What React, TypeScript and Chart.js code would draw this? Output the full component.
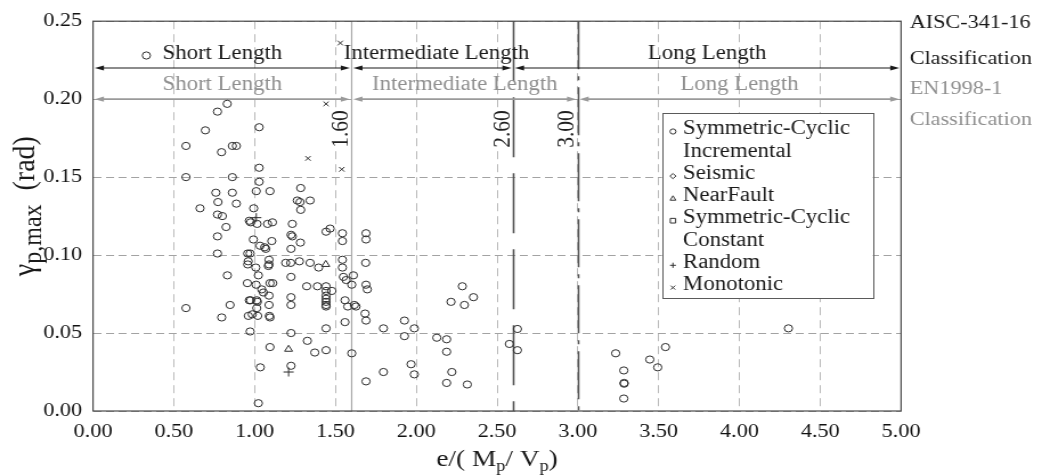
import React, { useEffect, useRef } from 'react';
import { Chart, registerables } from 'chart.js';

Chart.register(...registerables);

const VIEW_W = 1042;
const VIEW_H = 475;
const STRETCH = 1.14;
const CANVAS_W = Math.round(VIEW_W / STRETCH);
const FONT = '"Liberation Serif", "Times New Roman", serif';

const xTickValues = [0, 0.5, 1, 1.5, 2, 2.5, 3, 3.5, 4, 4.5, 5];
const xTickLabels = ['0.00', '0.50', '1.00', '1.50', '2.00', '2.50', '3.00', '3.50', '4.00', '4.50', '5.00'];
const yTickValues = [0, 0.05, 0.1, 0.15, 0.2, 0.25];
const yTickLabels = ['0.00', '0.05', '0.10', '0.15', '0.20', '0.25'];

const symCyclicIncremental: [number, number][] = [
  [0.33, 0.228],
  [0.83, 0.197], [0.77, 0.192], [0.695, 0.18], [0.575, 0.17], [0.795, 0.166], [0.862, 0.17], [0.887, 0.17], [1.028, 0.182],
  [0.575, 0.15], [0.862, 0.15], [1.028, 0.156], [1.028, 0.147],
  [0.76, 0.14], [0.862, 0.14], [1.01, 0.141], [1.095, 0.141], [1.285, 0.143],
  [0.773, 0.134], [0.887, 0.133], [0.662, 0.13], [0.77, 0.126], [0.8, 0.125], [0.994, 0.13],
  [1.264, 0.135], [1.281, 0.134], [1.343, 0.135], [1.285, 0.129],
  [0.823, 0.118], [0.77, 0.112], [0.77, 0.101],
  [0.967, 0.122], [0.975, 0.121], [1.015, 0.12], [1.08, 0.12], [1.11, 0.121], [1.233, 0.12],
  [0.992, 0.11], [1.033, 0.106], [1.062, 0.105], [1.069, 0.104], [1.106, 0.109],
  [1.225, 0.113], [1.233, 0.112], [1.283, 0.108], [1.225, 0.104],
  [1.442, 0.115], [1.467, 0.117], [1.543, 0.114], [1.543, 0.109], [1.689, 0.114], [1.689, 0.11],
  [0.957, 0.101], [0.972, 0.101], [0.96, 0.096], [0.957, 0.094], [1.007, 0.092], [1.023, 0.087],
  [1.089, 0.097], [1.089, 0.094], [1.085, 0.093],
  [1.192, 0.095], [1.223, 0.095], [1.277, 0.096], [1.343, 0.095], [1.396, 0.092], [1.225, 0.086],
  [1.543, 0.097], [1.543, 0.092], [1.549, 0.086], [1.566, 0.084], [1.611, 0.087], [1.601, 0.081], [1.687, 0.095],
  [0.831, 0.087],
  [0.955, 0.082], [1.009, 0.081], [1.044, 0.078], [1.054, 0.076], [1.095, 0.082], [1.112, 0.082],
  [1.322, 0.08], [1.388, 0.08],
  [1.442, 0.08], [1.442, 0.077], [1.442, 0.074], [1.442, 0.072], [1.442, 0.07], [1.442, 0.068], [1.442, 0.067],
  [1.478, 0.077],
  [1.689, 0.081], [1.697, 0.078],
  [0.967, 0.071], [0.975, 0.071], [1.013, 0.071], [1.017, 0.07], [1.013, 0.066], [1.089, 0.074], [1.089, 0.068],
  [1.225, 0.073], [1.225, 0.068],
  [1.559, 0.071], [1.576, 0.067], [1.617, 0.068], [1.627, 0.067],
  [0.575, 0.066], [0.848, 0.068], [0.796, 0.06],
  [0.961, 0.061], [0.985, 0.062], [1.019, 0.061], [1.091, 0.061], [1.095, 0.06],
  [1.683, 0.0625], [1.689, 0.058], [1.559, 0.057],
  [0.972, 0.051], [1.225, 0.05], [1.442, 0.053],
  [1.326, 0.045], [1.095, 0.041], [1.372, 0.0375], [1.442, 0.039], [1.601, 0.037],
  [1.035, 0.028], [1.225, 0.029], [1.689, 0.019], [1.023, 0.005],
  [1.797, 0.053], [1.797, 0.025], [1.927, 0.058], [1.927, 0.048], [1.988, 0.053], [1.968, 0.03], [1.988, 0.0235],
  [2.127, 0.047], [2.188, 0.046], [2.188, 0.038], [2.22, 0.025], [2.188, 0.018], [2.316, 0.017],
  [2.215, 0.07], [2.285, 0.08], [2.298, 0.068], [2.354, 0.073],
  [2.576, 0.043], [2.626, 0.0526], [2.626, 0.039],
  [3.234, 0.037], [3.284, 0.026], [3.286, 0.018], [3.286, 0.0175], [3.284, 0.008],
  [3.445, 0.033], [3.494, 0.028], [3.542, 0.041], [4.303, 0.053],
];
const seismic: [number, number][] = [];
const nearFault: [number, number][] = [[1.44, 0.094], [1.21, 0.0396]];
const symCyclicConstant: [number, number][] = [];
const random: [number, number][] = [[1.01, 0.124], [1.21, 0.025]];
const monotonic: [number, number][] = [[1.442, 0.197], [1.33, 0.162], [1.539, 0.155], [1.53, 0.236]];

const seriesNames = [
  'Symmetric-Cyclic\nIncremental',
  'Seismic',
  'NearFault',
  'Symmetric-Cyclic\nConstant',
  'Random',
  'Monotonic',
];
const seriesData = [symCyclicIncremental, seismic, nearFault, symCyclicConstant, random, monotonic];
const seriesStyles = ['circle', 'rectRot', 'triangle', 'rect', 'cross', 'crossRot'];
const seriesRadius = [3.6, 3.6, 4, 3.6, 4.5, 3.3];

const classNames = ['Short Length', 'Intermediate Length', 'Long Length'];
const aiscBounds = [0, 1.6, 2.6, 5];
const enBounds = [0, 1.6, 3.0, 5];
const aiscTextX = [0.8, 2.125, 3.8];
const enTextX = [0.8, 2.3, 4.0];
const aiscArrowY = 0.22;
const enArrowY = 0.2;
const limitValues = [1.6, 2.6, 3.0];
const limitLabels = ['1.60', '2.60', '3.00'];
const sideLabels = ['AISC-341-16', 'Classification', 'EN1998-1', 'Classification'];

const BLACK = '#1a1a1a';
const GREY_TEXT = '#8f8f8f';

function drawRich(
  ctx: CanvasRenderingContext2D,
  parts: { t: string; sub?: boolean }[],
  x: number,
  y: number,
  size: number,
  subScale: number,
) {
  const subSize = Math.round(size * subScale);
  let total = 0;
  const widths = parts.map((p) => {
    ctx.font = `${p.sub ? subSize : size}px ${FONT}`;
    const w = ctx.measureText(p.t).width;
    total += w;
    return w;
  });
  let cx = x - total / 2;
  ctx.textAlign = 'left';
  ctx.textBaseline = 'alphabetic';
  parts.forEach((p, i) => {
    ctx.font = `${p.sub ? subSize : size}px ${FONT}`;
    ctx.fillText(p.t, cx, p.sub ? y + size * 0.22 : y);
    cx += widths[i];
  });
}

function drawMarker(ctx: CanvasRenderingContext2D, style: string, x: number, y: number, r: number) {
  ctx.beginPath();
  if (style === 'circle') {
    ctx.arc(x, y, r, 0, Math.PI * 2);
  } else if (style === 'rectRot') {
    ctx.moveTo(x, y - r); ctx.lineTo(x + r, y); ctx.lineTo(x, y + r); ctx.lineTo(x - r, y); ctx.closePath();
  } else if (style === 'triangle') {
    ctx.moveTo(x, y - r); ctx.lineTo(x + r * 0.95, y + r * 0.7); ctx.lineTo(x - r * 0.95, y + r * 0.7); ctx.closePath();
  } else if (style === 'rect') {
    ctx.rect(x - r * 0.9, y - r * 0.9, r * 1.8, r * 1.8);
  } else if (style === 'cross') {
    ctx.moveTo(x - r, y); ctx.lineTo(x + r, y); ctx.moveTo(x, y - r); ctx.lineTo(x, y + r);
  } else if (style === 'crossRot') {
    const d = r * 0.75;
    ctx.moveTo(x - d, y - d); ctx.lineTo(x + d, y + d); ctx.moveTo(x + d, y - d); ctx.lineTo(x - d, y + d);
  }
  ctx.stroke();
}

function arrowSeg(ctx: CanvasRenderingContext2D, x1: number, x2: number, y: number, color: string, lw: number) {
  const L = 8;
  const h = 2.6;
  ctx.strokeStyle = color;
  ctx.fillStyle = color;
  ctx.lineWidth = lw;
  ctx.setLineDash([]);
  ctx.beginPath();
  ctx.moveTo(x1 + L - 1, y);
  ctx.lineTo(x2 - L + 1, y);
  ctx.stroke();
  ctx.beginPath();
  ctx.moveTo(x1, y); ctx.lineTo(x1 + L, y - h); ctx.lineTo(x1 + L, y + h); ctx.closePath(); ctx.fill();
  ctx.beginPath();
  ctx.moveTo(x2, y); ctx.lineTo(x2 - L, y - h); ctx.lineTo(x2 - L, y + h); ctx.closePath(); ctx.fill();
}

const overlayPlugin = {
  id: 'overlay',
  beforeDatasetsDraw(chart: any) {
    const { ctx, chartArea: a, scales } = chart;
    const x = scales.x;
    const y = scales.y;
    ctx.save();
    const limitColors = ['#a9a9a9', '#505050', '#505050'];
    const limitWidths = [1.2, 1.6, 1.6];
    const limitDashes = [[], [60, 16], [48, 7, 4, 7]];
    limitValues.forEach((v, i) => {
      const px = Math.round(x.getPixelForValue(v)) + 0.5;
      ctx.strokeStyle = limitColors[i];
      ctx.lineWidth = limitWidths[i];
      ctx.setLineDash(limitDashes[i]);
      ctx.beginPath();
      ctx.moveTo(px, a.top);
      ctx.lineTo(px, a.bottom);
      ctx.stroke();
    });
    ctx.setLineDash([]);
    ctx.font = `21.5px ${FONT}`;
    limitValues.forEach((v, i) => {
      const px = x.getPixelForValue(v) - 10.3;
      const cy = 129;
      ctx.save();
      ctx.translate(px, cy);
      ctx.rotate(-Math.PI / 2);
      const w = ctx.measureText(limitLabels[i]).width;
      ctx.fillStyle = '#ffffff';
      ctx.fillRect(-w / 2 - 2, -8, w + 4, 16);
      ctx.fillStyle = '#202020';
      ctx.textAlign = 'center';
      ctx.textBaseline = 'middle';
      ctx.fillText(limitLabels[i], 0, 1);
      ctx.restore();
    });
    const gap = 1.5;
    const yA = y.getPixelForValue(aiscArrowY);
    const yE = y.getPixelForValue(enArrowY);
    for (let i = 0; i < 3; i++) {
      arrowSeg(ctx, x.getPixelForValue(enBounds[i]) + gap, x.getPixelForValue(enBounds[i + 1]) - gap, yE, '#9a9a9a', 1.6);
    }
    for (let i = 0; i < 3; i++) {
      arrowSeg(ctx, x.getPixelForValue(aiscBounds[i]) + gap, x.getPixelForValue(aiscBounds[i + 1]) - gap, yA, BLACK, 1.2);
    }
    ctx.font = `20px ${FONT}`;
    ctx.textAlign = 'center';
    ctx.textBaseline = 'alphabetic';
    ctx.fillStyle = BLACK;
    classNames.forEach((n, i) => ctx.fillText(n, x.getPixelForValue(aiscTextX[i]), yA - 9));
    ctx.fillStyle = GREY_TEXT;
    classNames.forEach((n, i) => ctx.fillText(n, x.getPixelForValue(enTextX[i]), yE - 9));
    ctx.restore();
  },
  afterDatasetsDraw(chart: any) {
    const { ctx, chartArea: a } = chart;
    ctx.save();
    const lx = a.left + 499;
    const ly = 113;
    const lw = 185;
    const lh = 185;
    ctx.fillStyle = '#ffffff';
    ctx.fillRect(lx, ly, lw, lh);
    ctx.strokeStyle = '#5a5a5a';
    ctx.lineWidth = 1;
    ctx.strokeRect(Math.round(lx) + 0.5, ly + 0.5, lw, lh);
    ctx.font = `20px ${FONT}`;
    ctx.textAlign = 'left';
    ctx.textBaseline = 'middle';
    let yy = 129;
    const step = 22.3;
    seriesNames.forEach((name, i) => {
      ctx.strokeStyle = '#333';
      ctx.lineWidth = 1;
      drawMarker(ctx, seriesStyles[i], lx + 9.7, yy + 2.5, 2.6);
      ctx.fillStyle = BLACK;
      name.split('\n').forEach((line) => {
        ctx.fillText(line, lx + 18.5, yy);
        yy += step;
      });
    });
    ctx.strokeStyle = '#4a4a4a';
    ctx.lineWidth = 1.2;
    ctx.strokeRect(a.left, a.top, a.right - a.left, a.bottom - a.top);
    ctx.restore();
  },
  afterDraw(chart: any) {
    const { ctx, chartArea: a } = chart;
    ctx.save();
    ctx.font = `19.5px ${FONT}`;
    ctx.textAlign = 'left';
    ctx.textBaseline = 'alphabetic';
    const sx = a.right + 7.5;
    const baselines = [28, 64, 94, 125];
    const colors = [BLACK, BLACK, GREY_TEXT, GREY_TEXT];
    sideLabels.forEach((s, i) => {
      ctx.fillStyle = colors[i];
      ctx.fillText(s, sx, baselines[i]);
    });
    ctx.fillStyle = BLACK;
    drawRich(ctx, [{ t: 'e/( M' }, { t: 'p', sub: true }, { t: '/ V' }, { t: 'p', sub: true }, { t: ')' }], (a.left + a.right) / 2, 466, 24, 0.68);
    ctx.save();
    ctx.translate(30, (a.top + a.bottom) / 2 - 10);
    ctx.rotate(-Math.PI / 2);
    drawRich(ctx, [{ t: 'γ' }, { t: 'p,max', sub: true }, { t: '  (rad)' }], 0, 0, 28, 0.85);
    ctx.restore();
    ctx.restore();
  },
};

export default function App() {
  const canvasRef = useRef<HTMLCanvasElement | null>(null);

  useEffect(() => {
    const canvas = canvasRef.current;
    if (!canvas) return;
    const datasets = seriesNames.map((name, i) => ({
      label: name,
      data: seriesData[i].map(([px, py]) => ({ x: px, y: py })),
      pointStyle: seriesStyles[i],
      pointRadius: seriesRadius[i],
      pointBorderWidth: 1,
      pointBorderColor: '#2b2b2b',
      pointBackgroundColor: 'rgba(0,0,0,0)',
      showLine: false,
    }));
    const chart = new Chart(canvas, {
      type: 'scatter',
      data: { datasets },
      plugins: [overlayPlugin],
      options: {
        responsive: false,
        maintainAspectRatio: false,
        animation: false,
        events: [],
        layout: { padding: { left: 0, right: CANVAS_W - 790.4, top: 20, bottom: 0 } },
        plugins: { legend: { display: false }, tooltip: { enabled: false } },
        scales: {
          x: {
            type: 'linear',
            min: 0,
            max: 5,
            afterBuildTicks: (s: any) => { s.ticks = xTickValues.map((v) => ({ value: v })); },
            afterFit: (s: any) => { s.height = 64; },
            ticks: {
              autoSkip: false,
              maxRotation: 0,
              padding: 9,
              color: '#111',
              font: { family: FONT, size: 19.5 },
              callback: (_v: any, i: number) => xTickLabels[i],
            },
            grid: { color: '#b9b9b9', lineWidth: 1, drawTicks: false },
            border: { display: false, dash: [8, 5] },
          },
          y: {
            type: 'linear',
            min: 0,
            max: 0.25,
            afterBuildTicks: (s: any) => { s.ticks = yTickValues.map((v) => ({ value: v })); },
            afterFit: (s: any) => { s.width = 81.6; },
            ticks: {
              padding: 9.5,
              color: '#111',
              font: { family: FONT, size: 19.5 },
              callback: (_v: any, i: number) => yTickLabels[i],
            },
            grid: { color: '#a3a3a3', lineWidth: 1, drawTicks: false },
            border: { display: false, dash: [7, 4] },
          },
        },
      } as any,
    });
    return () => chart.destroy();
  }, []);

  return (
    <div style={{ position: 'fixed', left: 0, top: 0, width: VIEW_W, height: VIEW_H, background: '#fff' }}>
      <canvas
        ref={canvasRef}
        width={CANVAS_W}
        height={VIEW_H}
        style={{ width: `${VIEW_W}px`, height: `${VIEW_H}px`, display: 'block' }}
      />
    </div>
  );
}
